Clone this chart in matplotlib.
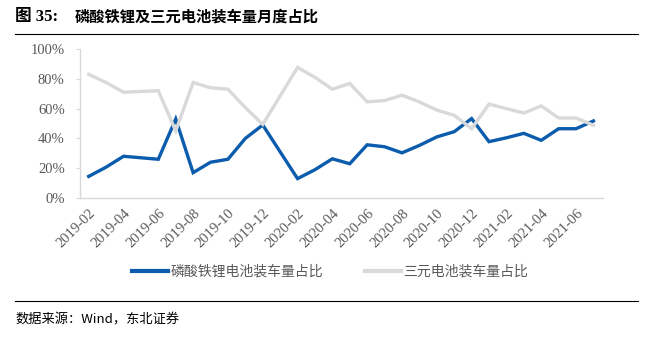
import matplotlib
matplotlib.use("Agg")
import matplotlib.pyplot as plt
from matplotlib.lines import Line2D
from matplotlib.ticker import FuncFormatter

months = ["2019-02","2019-03","2019-04","2019-05","2019-06","2019-07","2019-08","2019-09",
          "2019-10","2019-11","2019-12","2020-01","2020-02","2020-03","2020-04","2020-05",
          "2020-06","2020-07","2020-08","2020-09","2020-10","2020-11","2020-12","2021-01",
          "2021-02","2021-03","2021-04","2021-05","2021-06","2021-07"]
lfp_share = [14.5, 20.7, 28.0, 27.0, 26.0, 53.0, 17.0, 24.0, 26.0, 40.0, 49.0, 31.0, 13.0, 19.0,
             26.3, 23.0, 35.7, 34.4, 30.3, 35.3, 41.0, 44.5, 53.3, 37.8, 40.4, 43.4, 38.7, 46.5,
             46.5, 51.7]
ncm_share = [83.0, 77.5, 71.0, 71.5, 72.0, 45.0, 77.5, 74.0, 73.0, 60.7, 49.4, 68.5, 87.6, 81.0,
             73.0, 76.9, 64.5, 65.4, 69.0, 64.5, 59.0, 55.5, 46.5, 63.0, 60.0, 57.0, 61.8, 53.7,
             53.7, 48.8]
series_names = ["磷酸铁锂电池装车量占比", "三元电池装车量占比"]
title_prefix = "图 35:"
title_body = "磷酸铁锂及三元电池装车量月度占比"
source_text = "数据来源：Wind，东北证券"

cjk = ["Noto Sans CJK SC", "DejaVu Sans"]
serif = ["Liberation Serif", "DejaVu Serif"]
blue = "#0B5CAD"
gray = "#D9D9D9"

fig = plt.figure(figsize=(6.51, 3.37), dpi=100)
ax = fig.add_axes([80/651, (337-198)/337, (603-80)/651, (198-49)/337])

x = list(range(len(months)))
ax.plot(x, [v/100 for v in lfp_share], color=blue, lw=2.4, solid_joinstyle="miter")
ax.plot(x, [v/100 for v in ncm_share], color=gray, lw=2.4, solid_joinstyle="miter")

ax.set_ylim(0, 1)
ax.set_xlim(-0.5, len(months) - 0.45)
ax.set_yticks([0, 0.2, 0.4, 0.6, 0.8, 1.0])
ax.yaxis.set_major_formatter(FuncFormatter(lambda v, p: f"{v*100:.0f}%"))
ax.set_xticks(x[::2])
ax.set_xticklabels(months[::2], rotation=45, ha="right", rotation_mode="anchor")
ax.tick_params(axis="both", labelfontfamily=serif[0], labelsize=10.5, labelcolor="#595959")
ax.tick_params(axis="y", length=3, width=0.8, color="#D9D9D9", pad=8)
ax.tick_params(axis="x", length=0, pad=6)
for s in ["top", "right"]:
    ax.spines[s].set_visible(False)
for s in ["left", "bottom"]:
    ax.spines[s].set_color("#D9D9D9")
    ax.spines[s].set_linewidth(1.0)

handles = [Line2D([], [], color=blue, lw=3), Line2D([], [], color=gray, lw=3)]
leg = fig.legend(handles, series_names, loc="center", bbox_to_anchor=(330/651, 1 - 272/337),
                 ncol=2, frameon=False, prop={"family": cjk, "size": 10},
                 handlelength=2.6, handletextpad=0.2, columnspacing=3.0)
for t in leg.get_texts():
    t.set_color("#595959")

fig.text(15/651, 1 - 17/337, title_prefix, family=["Liberation Serif", "Noto Sans CJK SC"],
         fontsize=12, fontweight="bold", va="center", ha="left", color="black")
fig.text(75/651, 1 - 17/337, title_body, family=cjk, fontsize=11, fontweight="bold",
         va="center", ha="left", color="black")
fig.add_artist(Line2D([15/651, 638/651], [1 - 34/337, 1 - 34/337], color="black", lw=0.8))
fig.add_artist(Line2D([15/651, 638/651], [1 - 301/337, 1 - 301/337], color="black", lw=0.8))
fig.text(15/651, 1 - 320/337, source_text, family=cjk, fontsize=9.5, va="center", ha="left",
         color="black")

fig.savefig("out.png", dpi=100)
